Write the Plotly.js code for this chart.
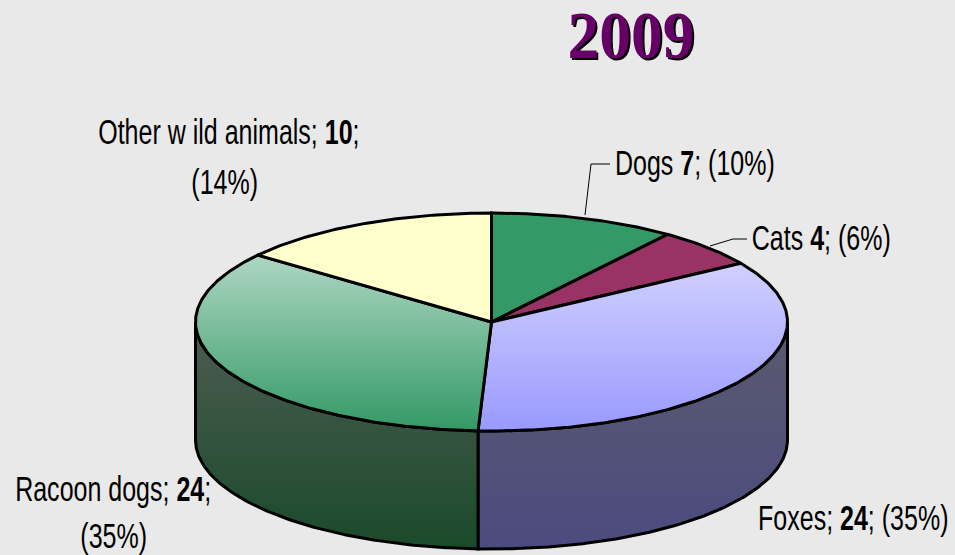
<!DOCTYPE html>
<html>
<head>
<meta charset="utf-8">
<script src="https://cdn.plot.ly/plotly-3.0.1.min.js"></script>
<style>html,body{margin:0;padding:0;background:#e9e9e9}#c{width:955px;height:555px}
.annotation text{transform-box:fill-box;transform-origin:center;transform:scaleX(0.715)}
.annotation[data-index="0"] text{transform:scale(1.06,1.12)}
</style>
</head>
<body>
<div id="c"></div>
<script>
var chartTitle = '2009';
var categories = ['Dogs', 'Cats', 'Foxes', 'Racoon dogs', 'Other wild animals'];
var values = [7, 4, 24, 24, 10];
var percents = [10, 6, 35, 35, 14];

var topColors = [
  ['#339966', '#339966'], ['#993366', '#993366'], ['#d0d0ff', '#9999ff'],
  ['#aed6c2', '#339966'], ['#ffffcc', '#ffffcc']
];
var wallColors = [null, null, ['#5a5a6e', '#4b4b80'], ['#4d5c52', '#1a4a2a'], null];

var CX = 491.5, CY = 322, RX = 296, RY = 109, DEPTH = 118;
var FONT = '"Liberation Sans",Arial,sans-serif';
var FS = 35;

var total = values.reduce(function (a, b) { return a + b; }, 0);
function px(t) { return CX + RX * Math.sin(t); }
function py(t) { return CY - RY * Math.cos(t); }
function arc(a, b) {
  var out = [], n = Math.max(2, Math.ceil((b - a) / 0.01));
  for (var i = 0; i <= n; i++) out.push(a + (b - a) * i / n);
  return out;
}
// the y axis runs downward, so the colour stops run bottom-first
function grad(c) {
  return {type: 'vertical', colorscale: [[0, c[1]], [1, c[0]]]};
}

var traces = [], cum = 0, slices = [];
values.forEach(function (v, i) {
  var a = cum / total * 2 * Math.PI;
  cum += v;
  slices.push([a, cum / total * 2 * Math.PI]);
});

// side walls (only the part of the rim facing the viewer)
slices.forEach(function (s, i) {
  var a = Math.max(s[0], Math.PI / 2), b = Math.min(s[1], 3 * Math.PI / 2);
  if (b <= a || !wallColors[i]) return;
  var ts = arc(a, b), xs = [], ys = [];
  ts.forEach(function (t) { xs.push(px(t)); ys.push(py(t)); });
  ts.slice().reverse().forEach(function (t) { xs.push(px(t)); ys.push(py(t) + DEPTH); });
  xs.push(xs[0]); ys.push(ys[0]);
  traces.push({type: 'scatter', mode: 'lines', x: xs, y: ys, fill: 'toself',
    fillgradient: grad(wallColors[i]), line: {color: '#000', width: 3}, hoverinfo: 'skip'});
});

// top face
slices.forEach(function (s, i) {
  var xs = [CX], ys = [CY];
  arc(s[0], s[1]).forEach(function (t) { xs.push(px(t)); ys.push(py(t)); });
  xs.push(CX); ys.push(CY);
  traces.push({type: 'scatter', mode: 'lines', x: xs, y: ys, fill: 'toself',
    fillgradient: grad(topColors[i]), line: {color: '#000', width: 3}, hoverinfo: 'skip'});
});

// leader lines
traces.push({type: 'scatter', mode: 'lines', x: [585, 591, 610], y: [215, 164, 164],
  line: {color: '#000', width: 1}, hoverinfo: 'skip'});
traces.push({type: 'scatter', mode: 'lines', x: [710, 733, 747], y: [246, 239, 239],
  line: {color: '#000', width: 1}, hoverinfo: 'skip'});

function label(x, y, text, anchor) {
  return {xref: 'x', yref: 'y', x: x, y: y, text: text, showarrow: false,
    xanchor: anchor || 'center', yanchor: 'middle',
    font: {family: FONT, size: FS, color: '#000'}};
}
var annotations = [
  {xref: 'x', yref: 'y', x: 631, y: 36, text: chartTitle, showarrow: false,
   xanchor: 'center', yanchor: 'middle',
   font: {family: '"Liberation Serif","Times New Roman",serif', size: 60, color: '#660066',
          weight: 'bold', shadow: '2px 2px 0 #000'}},
  label(695, 162, categories[0] + ' <b>' + values[0] + '</b>; (' + percents[0] + '%)'),
  label(821, 237, categories[1] + ' <b>' + values[1] + '</b>; (' + percents[1] + '%)'),
  label(853, 517, categories[2] + '; <b>' + values[2] + '</b>; (' + percents[2] + '%)'),
  label(113, 488, categories[3] + '; <b>' + values[3] + '</b>;'),
  label(113, 535, '(' + percents[3] + '%)'),
  label(229, 131, 'Other w ild animals; <b>' + values[4] + '</b>;'),
  label(224, 181, '(' + percents[4] + '%)')
];

Plotly.newPlot('c', traces, {
  width: 955, height: 555,
  margin: {l: 0, r: 0, t: 0, b: 0},
  paper_bgcolor: '#e9e9e9', plot_bgcolor: '#e9e9e9',
  showlegend: false,
  xaxis: {visible: false, range: [0, 955], fixedrange: true},
  yaxis: {visible: false, range: [555, 0], fixedrange: true},
  annotations: annotations
}, {displayModeBar: false, staticPlot: true});
</script>
</body>
</html>
